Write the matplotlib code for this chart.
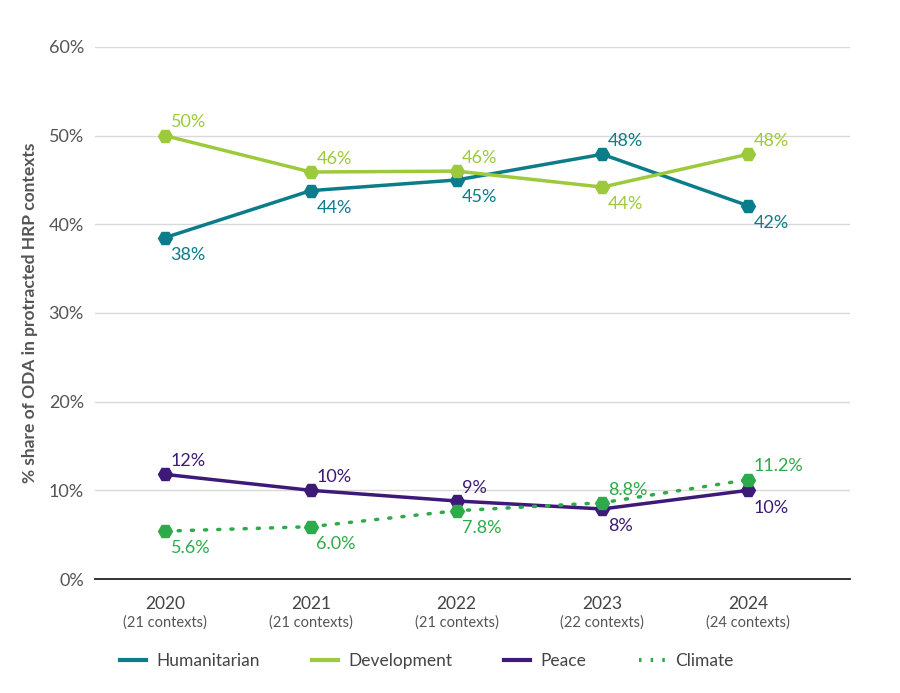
import matplotlib
matplotlib.use("Agg")
import matplotlib.pyplot as plt
from matplotlib.lines import Line2D
from matplotlib.transforms import offset_copy

years = ["2020", "2021", "2022", "2023", "2024"]
contexts = ["(21 contexts)", "(21 contexts)", "(21 contexts)", "(22 contexts)", "(24 contexts)"]

humanitarian = [38.5, 43.8, 45.0, 47.9, 42.1]
development = [50.0, 45.9, 46.0, 44.2, 47.9]
peace = [11.8, 10.0, 8.8, 7.9, 10.0]
climate = [5.4, 5.9, 7.7, 8.6, 11.2]

hum_labels = ["38%", "44%", "45%", "48%", "42%"]
dev_labels = ["50%", "46%", "46%", "44%", "48%"]
peace_labels = ["12%", "10%", "9%", "8%", "10%"]
clim_labels = ["5.6%", "6.0%", "7.8%", "8.8%", "11.2%"]

hum_pos = ["below", "below", "below", "above", "below"]
dev_pos = ["above", "above", "above", "below", "above"]
peace_pos = ["above", "above", "above", "below", "below"]
clim_pos = ["below", "below", "below", "above", "above"]

C_HUM = "#0b7c8a"
C_DEV = "#9dca3c"
C_PEACE = "#3d1a78"
C_CLIM = "#2dab4b"

plt.rcParams['font.family'] = ['Lato', 'DejaVu Sans']

fig = plt.figure(figsize=(9, 6.93), dpi=100)
ax = fig.add_axes([0.1056, 0.1645, 0.8389, 0.7677])

x = list(range(len(years)))

ax.plot(x, humanitarian, color=C_HUM, lw=2.5, marker='H', ms=10, zorder=3)
ax.plot(x, development, color=C_DEV, lw=2.5, marker='H', ms=10, zorder=3)
ax.plot(x, peace, color=C_PEACE, lw=2.5, marker='H', ms=10, zorder=3)
ax.plot(x, climate, color=C_CLIM, lw=2.5, ls=(0, (0.6, 3.2)), dash_capstyle='round',
        marker='H', ms=10, zorder=4)

def label(vals, labs, pos, color):
    for xi, v, t, p in zip(x, vals, labs, pos):
        dy = 9.5 if p == "above" else -12.5
        tr = offset_copy(ax.transData, fig=fig, x=4, y=dy, units='points')
        ax.text(xi, v, t, transform=tr, color=color, fontsize=13,
                ha='left', va='center')

label(humanitarian, hum_labels, hum_pos, C_HUM)
label(development, dev_labels, dev_pos, C_DEV)
label(peace, peace_labels, peace_pos, C_PEACE)
label(climate, clim_labels, clim_pos, C_CLIM)

ax.set_xlim(-0.48, 4.7)
ax.set_ylim(0, 60)
ax.set_yticks([0, 10, 20, 30, 40, 50, 60])
ax.set_yticklabels([f"{v}%" for v in [0, 10, 20, 30, 40, 50, 60]])
ax.grid(axis='y', color='#d9d9d9', lw=1)
ax.set_axisbelow(True)
for s in ['left', 'right', 'top']:
    ax.spines[s].set_visible(False)
ax.spines['bottom'].set_color('#222222')
ax.spines['bottom'].set_linewidth(1.3)
ax.tick_params(axis='y', length=0, pad=8, labelsize=13, labelcolor='#555555')
ax.tick_params(axis='x', length=0, pad=12, labelsize=12.5, labelcolor='#444444')
ax.set_xticks(x)
ax.set_xticklabels(years)
for xi, c in zip(x, contexts):
    tr = offset_copy(ax.get_xaxis_transform(), fig=fig, x=0, y=-31, units='points')
    ax.text(xi, 0, c, transform=tr, ha='center', va='center', fontsize=10.5, color='#555555')

ax.set_ylabel("% share of ODA in protracted HRP contexts", fontsize=12.5,
              fontweight='bold', color='#555555', labelpad=8)

handles = [
    Line2D([0], [0], color=C_HUM, lw=3),
    Line2D([0], [0], color=C_DEV, lw=3),
    Line2D([0], [0], color=C_PEACE, lw=3),
    Line2D([0], [0], color=C_CLIM, lw=3, ls=(0, (0.6, 2.2))),
]
names = ["Humanitarian", "Development", "Peace", "Climate"]
leg = fig.legend(handles, names, loc='center', bbox_to_anchor=(0.474, 0.046), ncol=4,
                 frameon=False, fontsize=12.5, handlelength=1.5, columnspacing=3.0,
                 handletextpad=0.6)
for t in leg.get_texts():
    t.set_color('#444444')

fig.savefig("out.png", dpi=100)
